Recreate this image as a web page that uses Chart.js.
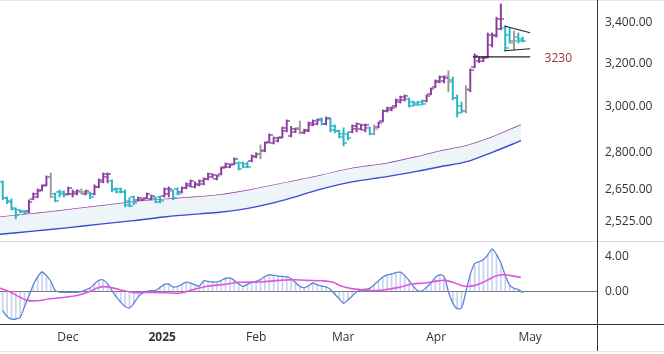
<!DOCTYPE html>
<html>
<head>
<meta charset="utf-8">
<script src="https://cdn.jsdelivr.net/npm/chart.js@4.4.1/dist/chart.umd.min.js"></script>
<style>
html, body { margin:0; padding:0; background:#fff; }
#wrap { position:relative; width:664px; height:354px; overflow:hidden; }
#top { position:absolute; left:0; top:0; }
#bot { position:absolute; left:0; top:241px; }
.ln { position:absolute; }
</style>
</head>
<body>
<div id="wrap">
  <canvas id="top" width="664" height="241" style="width:664px;height:241px"></canvas>
  <canvas id="bot" width="664" height="113" style="width:664px;height:113px"></canvas>
  <div class="ln" style="left:0;top:0;width:664px;height:1px;background:#e6e6e6"></div>
  <div class="ln" style="left:0;top:241px;width:664px;height:1px;background:#dcdcdc"></div>
  <div class="ln" style="left:0;top:324px;width:664px;height:1px;background:#333"></div>
  <div class="ln" style="left:597px;top:0;width:1px;height:351px;background:#333"></div>
  <div class="ln" style="left:0;top:351px;width:664px;height:1px;background:#e6e6e6"></div>
</div>
<script>
// daily bars, oldest first (index 0 = mid Nov 2024)
const opens  = [2680,2618,2605,2575,2568,2564,2565,2612,2622,2648,2668,2700,2630,2640,2640,2632,2630,2632,2640,2632,
                2636,2632,2660,2680,2700,2684,2652,2650,2640,2605,2620,2608,2607,2616,2612,2616,2620,2624,2630,2644,
                2650,2640,2656,2664,2660,2668,2672,2690,2700,2692,2712,2740,2742,2752,2758,2755,2752,2765,2782,2795,
                2808,2845,2842,2850,2866,2892,2870,2888,2905,2884,2892,2918,2922,2944,2922,2945,2912,2890,2880,2880,
                2888,2900,2900,2895,2905,2880,2909,2935,2980,2984,3000,3020,3028,3033,3020,3015,3020,3024,3056,3088,
                3112,3115,3140,3120,3040,3000,2980,3075,3182,3210,3212,3230,3290,3335,3370,3375,3340,3300,3330,3320];
const highs  = [2684,2620,2613,2578,2570,2566,2609,2636,2652,2668,2704,2716,2636,2648,2644,2660,2648,2648,2652,2648,
                2640,2668,2692,2716,2716,2688,2656,2656,2648,2617,2624,2620,2613,2636,2628,2620,2624,2656,2660,2648,
                2656,2660,2676,2688,2680,2688,2696,2716,2712,2708,2740,2757,2753,2778,2761,2761,2761,2790,2799,2832,
                2845,2879,2866,2866,2909,2940,2912,2905,2935,2900,2931,2940,2944,2949,2953,2949,2918,2896,2905,2888,
                2918,2927,2922,2922,2909,2918,2931,2984,2997,2997,3033,3047,3052,3038,3024,3024,3029,3052,3084,3121,
                3140,3140,3164,3135,3052,3020,3094,3173,3245,3230,3230,3348,3348,3428,3496,3383,3373,3358,3348,3328];
const lows   = [2609,2594,2570,2536,2559,2555,2559,2609,2617,2644,2664,2617,2601,2620,2620,2628,2620,2628,2632,2628,
                2613,2628,2656,2676,2676,2640,2636,2636,2582,2582,2590,2605,2605,2613,2609,2597,2597,2620,2620,2609,
                2628,2636,2652,2660,2656,2664,2668,2688,2696,2688,2708,2737,2737,2749,2728,2737,2737,2761,2778,2774,
                2803,2840,2836,2845,2862,2888,2866,2884,2879,2880,2888,2914,2918,2918,2918,2888,2884,2862,2828,2853,
                2884,2888,2896,2888,2875,2875,2905,2931,2975,2980,2997,3015,3024,2997,3002,3006,3006,3020,3052,3084,
                3107,3107,3066,3029,2953,2971,2971,3066,3178,3202,3207,3225,3278,3328,3363,3259,3298,3264,3298,3303];
const closes = [2618,2600,2578,2550,2562,2558,2600,2632,2645,2664,2700,2622,2605,2630,2628,2655,2640,2644,2640,2644,
                2620,2660,2688,2710,2712,2648,2640,2640,2590,2586,2598,2616,2611,2632,2624,2601,2603,2650,2652,2615,
                2632,2656,2672,2684,2670,2684,2690,2712,2706,2704,2736,2752,2750,2774,2732,2740,2742,2786,2795,2810,
                2840,2874,2860,2862,2904,2935,2900,2900,2888,2896,2926,2936,2940,2922,2948,2895,2890,2866,2840,2860,
                2912,2920,2916,2916,2880,2900,2926,2978,2993,2993,3029,3042,3047,3002,3006,3008,3010,3047,3080,3116,
                3135,3130,3110,3040,2970,2980,3080,3168,3235,3225,3226,3340,3340,3420,3420,3275,3310,3310,3310,3310];
// bar colour signal: 1 up, -1 down, 0 neutral
const trend  = [-1,-1,-1,-1,-1,-1,1,1,1,1,1,0,-1,-1,-1,1,1,1,0,1,
                -1,1,1,1,1,-1,-1,-1,-1,-1,-1,1,1,1,1,-1,-1,1,1,-1,
                -1,1,1,1,1,1,1,1,1,1,1,1,1,1,-1,-1,-1,1,1,0,
                1,1,1,1,1,1,1,1,0,1,1,1,1,-1,1,-1,-1,-1,-1,-1,
                1,1,1,1,-1,0,1,1,1,1,1,1,1,-1,-1,-1,-1,1,1,1,
                1,1,0,-1,-1,-1,0,1,1,1,1,1,1,1,1,-1,-1,0,-1,-1];

// moving averages, read at a few bar positions
const maX      = [-0.62,7,14.6,22.3,29.9,37.5,45.1,49.7,57.3,65,72.6,80.2,87.9,95.5,100.1,106.2,112.3,118.6];
const maPurple = [2542,2555,2570,2585,2601,2611,2621,2628,2650,2677,2705,2735,2755,2785,2806,2829,2867,2918];
const maBlue   = [2478,2490,2502,2516,2529,2544,2555,2561,2580,2611,2650,2681,2701,2725,2741,2762,2803,2850];

// pennant and support level
const pennantX     = [114.8,120.7];
const pennantUpper = [3383,3349];
const pennantLower = [3260,3270];
const supportX     = [107.6,120.7];
const supportLevel = 3230;

// oscillator (one per bar) and its signal line
const osc = [-2.2,-2.85,-3.15,-3.15,-2.96,-1.7,-0.5,0.8,1.7,2.27,1.85,1.2,0.15,-0.04,-0.07,-0.08,-0.08,-0.08,0.0,0.2,
             0.42,0.9,1.3,1.35,0.9,0.12,-0.6,-1.2,-1.7,-1.88,-1.35,-0.6,-0.18,0.05,0.13,0.15,0.5,0.84,0.88,0.55,
             0.6,0.85,1.1,0.98,0.8,0.65,1.25,1.2,1.12,1.12,1.3,1.55,1.58,1.3,0.9,0.62,0.85,1.08,1.2,1.4,
             1.75,1.95,1.87,1.8,1.75,1.7,1.5,1.05,0.62,0.45,0.7,1.0,0.78,0.65,0.55,0.25,-0.3,-0.8,-1.35,-0.95,
             -0.5,0.0,0.2,0.28,0.38,0.8,1.25,1.7,1.95,2.04,2.2,2.25,1.85,1.3,0.62,0.1,0.1,0.5,1.0,1.65,
             1.95,1.75,0.0,-1.3,-1.96,-1.85,0.0,2.0,3.25,3.45,3.7,4.25,4.9,4.3,3.3,1.9,0.75,0.4,0.23,-0.1];
const sigX   = [-0.62,1.7,4,5.6,7.8,10.8,14.7,17.7,20,21.6,22.9,24.6,26.8,29.8,33.7,37.6,40.6,43.5,46.8,51.3,
                54.3,58.9,63.5,66.4,69.6,72.6,75.4,77.6,79.9,82.2,84.5,87.5,90.7,93.7,96.6,98.9,101.2,103.5,105.8,108.1,
                110.4,112.7,114.3,115.9,118.6];
const sigVal = [0.42,-0.04,-0.65,-1.0,-1.04,-0.81,-0.62,-0.35,0.04,0.42,0.58,0.5,0.23,-0.08,-0.08,-0.12,-0.15,0.23,0.62,0.88,
                1.08,1.12,1.31,1.38,1.31,1.27,1.12,0.62,0.35,0.23,0.12,0.23,0.5,0.88,1.0,1.19,1.31,1.0,0.62,0.73,
                1.19,1.77,1.96,1.88,1.65];

// axis ticks
const priceTicks  = [2525,2650,2800,3000,3200,3400];
const oscTicks    = [0,4];
const monthPos    = [14.9,36.5,58,77.9,99.2,120.7];
const monthLabels = ['Dec','2025','Feb','Mar','Apr','May'];

const xMin = -0.62, xMax = 136;

Chart.defaults.font.family = '"Open Sans", sans-serif';
Chart.defaults.font.size = 12;
Chart.defaults.color = '#333';

const upCol = '#8b3c9e', downCol = '#27b4c4', flatCol = '#9a9a9a';
function barColor(i){
  return trend[i] > 0 ? upCol : (trend[i] < 0 ? downCol : flatCol);
}

// open tick to the left, close tick to the right
let tickCache = {};
function tickImg(color, side){
  let key = color + side;
  if(tickCache[key]) return tickCache[key];
  let c = document.createElement('canvas');
  c.width = 7; c.height = 2;
  let g = c.getContext('2d');
  g.fillStyle = color;
  if(side == 'open') g.fillRect(0, 0.3, 3.5, 1.3);
  else g.fillRect(3.5, 0.3, 3.5, 1.3);
  tickCache[key] = c;
  return c;
}

let idx = opens.map((v, i) => i);

const levelText = {
  id:'levelText',
  afterDatasetsDraw(chart){
    let ctx = chart.ctx;
    let x = chart.scales.x.getPixelForValue(124);
    let y = chart.scales.y.getPixelForValue(supportLevel);
    ctx.save();
    ctx.font = '12px "Open Sans", sans-serif';
    ctx.fillStyle = '#9a3434';
    ctx.textBaseline = 'middle';
    ctx.fillText(String(supportLevel), x, y + 2);
    ctx.restore();
  }
};

// fixed right axis, no extra room for end labels
function fixWidth(scale){
  scale.width = 67;
  scale.paddingTop = 0;
  scale.paddingBottom = 0;
}

new Chart(document.getElementById('top'), {
  type:'line',
  plugins:[levelText],
  data:{
    datasets:[
      {
        type:'line', order:10,
        data: maX.map((x, i) => ({x:x, y:maPurple[i]})),
        borderColor:'#9a4aa5', borderWidth:1.5, pointRadius:0, tension:0.3, fill:false
      },
      {
        type:'line', order:9,
        data: maX.map((x, i) => ({x:x, y:maBlue[i]})),
        borderColor:'#3a4bd0', borderWidth:1.4, pointRadius:0, tension:0.3,
        fill:'-1', backgroundColor:'#eef5f9'
      },
      {
        type:'bar', order:3,
        data: idx.map(i => ({x:i, y:[lows[i], highs[i]]})),
        backgroundColor: idx.map(barColor),
        barThickness:1.3
      },
      {
        type:'line', order:2, showLine:false,
        data: idx.map(i => ({x:i, y:opens[i]})),
        pointStyle: idx.map(i => tickImg(barColor(i), 'open'))
      },
      {
        type:'line', order:2, showLine:false,
        data: idx.map(i => ({x:i, y:closes[i]})),
        pointStyle: idx.map(i => tickImg(barColor(i), 'close'))
      },
      {
        type:'line', order:1,
        data: pennantX.map((x, i) => ({x:x, y:pennantUpper[i]})),
        borderColor:'#222', borderWidth:1.2, pointRadius:0
      },
      {
        type:'line', order:1,
        data: pennantX.map((x, i) => ({x:x, y:pennantLower[i]})),
        borderColor:'#222', borderWidth:1.2, pointRadius:0
      },
      {
        type:'line', order:1,
        data: supportX.map(x => ({x:x, y:supportLevel})),
        borderColor:'#222', borderWidth:1.2, pointRadius:0
      }
    ]
  },
  options:{
    responsive:false,
    animation:false,
    layout:{autoPadding:false, padding:{top:0, bottom:1, left:0, right:0}},
    plugins:{legend:{display:false}, tooltip:{enabled:false}},
    scales:{
      x:{type:'linear', min:xMin, max:xMax, display:false, offset:false},
      y:{
        type:'logarithmic', position:'right', min:2457, max:3517,
        afterBuildTicks: s => { s.ticks = priceTicks.map(v => ({value:v})); },
        afterFit: fixWidth,
        grid:{display:false, drawTicks:false},
        border:{display:false},
        ticks:{
          padding:8, color:'#333',
          callback: v => Number(v).toLocaleString('en-US', {minimumFractionDigits:2, maximumFractionDigits:2})
        }
      }
    }
  }
});

new Chart(document.getElementById('bot'), {
  type:'line',
  data:{
    datasets:[
      {
        type:'line', order:1,
        data: sigX.map((x, i) => ({x:x, y:sigVal[i]})),
        borderColor:'#e055de', borderWidth:1.6, pointRadius:0, tension:0.4
      },
      {
        type:'line', order:2,
        data: idx.map(i => ({x:i, y:osc[i]})),
        borderColor:'#5b86d8', borderWidth:1.3, pointRadius:0, tension:0.3
      },
      {
        type:'bar', order:3,
        data: idx.map(i => ({x:i, y:osc[i]})),
        backgroundColor:'rgba(130,158,220,0.45)',
        barThickness:1
      }
    ]
  },
  options:{
    responsive:false,
    animation:false,
    layout:{autoPadding:false, padding:{top:1, bottom:0, left:0, right:0}},
    plugins:{legend:{display:false}, tooltip:{enabled:false}},
    scales:{
      x:{
        type:'linear', min:xMin, max:xMax, offset:false,
        afterBuildTicks: s => { s.ticks = monthPos.map(v => ({value:v})); },
        afterFit: s => { s.height = 29.7; },
        grid:{display:false, drawTicks:false},
        border:{display:false},
        ticks:{
          padding:6, autoSkip:false, maxRotation:0, color:'#333',
          callback: (v, i) => monthLabels[i],
          font: c => ({weight: (c.tick && c.index === 1) ? 'bold' : 'normal'})
        }
      },
      y:{
        type:'linear', position:'right', min:-3.76, max:5.73,
        afterBuildTicks: s => { s.ticks = oscTicks.map(v => ({value:v})); },
        afterFit: fixWidth,
        grid:{
          drawTicks:false,
          color: c => (c.tick && c.tick.value === 0) ? '#7a7a7a' : 'rgba(0,0,0,0)'
        },
        border:{display:false},
        ticks:{padding:8, color:'#333', callback: v => Number(v).toFixed(2)}
      }
    }
  }
});
</script>
</body>
</html>
